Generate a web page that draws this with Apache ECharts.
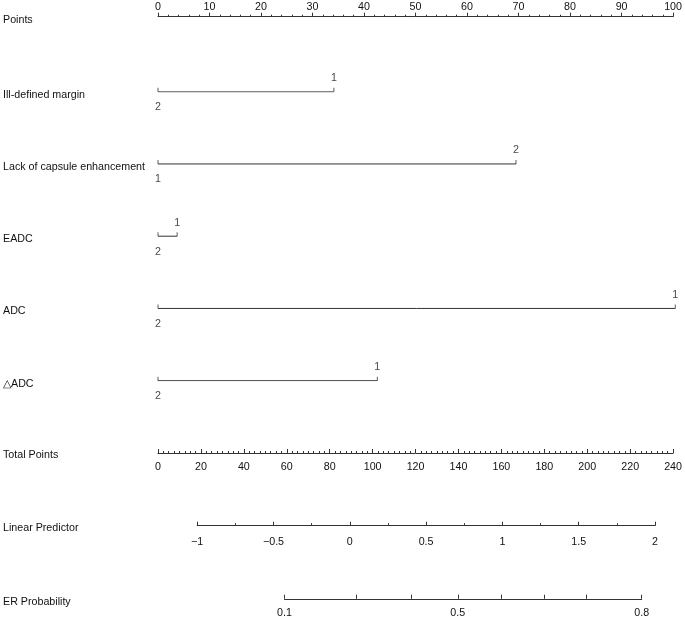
<!DOCTYPE html>
<html>
<head>
<meta charset="utf-8">
<script src="https://cdn.jsdelivr.net/npm/echarts@6/dist/echarts.min.js"></script>
<style>html,body{margin:0;padding:0;background:#fff}#c{width:685px;height:617px}</style>
</head>
<body>
<div id="c"></div>
<script>
// ---- data ----
const variables = ['Ill-defined margin', 'Lack of capsule enhancement', 'EADC', 'ADC', '\u25B3ADC'];
const maxPoints = [34.0, 69.2, 3.7, 100, 42.4];     // points at the right end of each scale
const highLevel = ['1', '2', '1', '1', '1'];        // level label at the right end
const lowLevel  = ['2', '1', '2', '2', '2'];        // level label at 0 points
const pointsTicks = [0, 10, 20, 30, 40, 50, 60, 70, 80, 90, 100];
const totalTicks = [0, 20, 40, 60, 80, 100, 120, 140, 160, 180, 200, 220, 240];
const lpTicks = [-1, -0.5, 0, 0.5, 1, 1.5, 2];
const erTickLP = [-0.43, 0.04, 0.40, 0.705, 0.99, 1.27, 1.55, 1.91];   // probability ticks on linear predictor scale
const erTickLabels = ['0.1', '', '', '0.5', '', '', '', '0.8'];

// ---- style ----
const LINE = '#333';
const TXT = '#111';
const FONT = '"Liberation Sans", Arial, Helvetica, sans-serif';
const FS = 10.7;
const ls = () => ({color: LINE, width: 1});

const chart = echarts.init(document.getElementById('c'), null, {renderer: 'canvas'});

function rowLabel(name, margin) {
  return {
    type: 'category', data: [name], axisLine: {show: false}, axisTick: {show: false},
    splitLine: {show: false},
    axisLabel: {align: 'left', margin: margin, formatter: v => '{a|' + v + '}',
      rich: {a: {color: TXT, fontFamily: FONT, fontSize: FS, padding: [6, 0, 0, 0]}}}
  };
}
const fmtMinus = v => String(v).replace('-', '\u2212');
const lab = (m, extra) => Object.assign({margin: m, color: TXT, fontFamily: FONT, fontSize: FS,
  showMaxLabel: true, showMinLabel: true}, extra || {});

const grids = [
  {left: 156, right: 9.7, top: 91.7, bottom: 236.3},          // variables
  {left: 156, right: 9.7, top: 16.7, height: 1},              // Points (top axis)
  {left: 156, right: 9.7, top: 452, height: 1},               // Total Points
  {left: 195.2, right: 30, top: 524.7, height: 1},            // Linear Predictor
  {left: 282.5, right: 43.3, top: 598.5, height: 1}           // ER Probability
];

const xAxes = [
  {gridIndex: 0, type: 'value', min: 0, max: 100, show: false},
  {gridIndex: 1, type: 'value', position: 'top', min: 0, max: 100, interval: 10,
   axisLine: {show: true, lineStyle: ls()},
   axisTick: {show: true, length: 4, lineStyle: ls(), customValues: pointsTicks},
   minorTick: {show: true, splitNumber: 5, length: 2, lineStyle: ls()},
   splitLine: {show: false},
   axisLabel: lab(4, {customValues: pointsTicks})},
  {gridIndex: 2, type: 'value', position: 'bottom', min: 0, max: 240, interval: 20,
   axisLine: {show: true, lineStyle: ls()},
   axisTick: {show: true, inside: true, length: 4, lineStyle: ls(), customValues: totalTicks},
   minorTick: {show: true, splitNumber: 8, length: 2, lineStyle: ls()},
   splitLine: {show: false},
   axisLabel: lab(9, {customValues: totalTicks})},
  {gridIndex: 3, type: 'value', position: 'bottom', min: -1, max: 2, interval: 0.5,
   axisLine: {show: true, lineStyle: ls()},
   axisTick: {show: true, inside: true, length: 4, lineStyle: ls(), customValues: lpTicks},
   minorTick: {show: true, splitNumber: 2, length: 2.5, lineStyle: ls()},
   splitLine: {show: false},
   axisLabel: lab(11, {customValues: lpTicks, formatter: fmtMinus})},
  {gridIndex: 4, type: 'value', position: 'bottom', min: erTickLP[0], max: erTickLP[erTickLP.length - 1],
   axisLine: {show: true, lineStyle: ls()},
   axisTick: {show: true, inside: true, length: 4, lineStyle: ls(), customValues: erTickLP},
   splitLine: {show: false},
   axisLabel: lab(8.5, {
     customValues: erTickLP.filter((v, i) => erTickLabels[i] !== ''),
     formatter: v => erTickLabels[erTickLP.indexOf(v)]})}
];

const yAxes = [
  {gridIndex: 0, type: 'value', min: 0, max: variables.length - 1, interval: 1, inverse: true,
   axisLine: {show: false}, axisTick: {show: false}, splitLine: {show: false},
   axisLabel: {align: 'left', margin: 155, formatter: v => '{a|' + (variables[v] || '') + '}',
     rich: {a: {color: TXT, fontFamily: FONT, fontSize: FS, padding: [6, 0, 0, 0]}}}},
  Object.assign(rowLabel('Points', 155), {gridIndex: 1}),
  Object.assign(rowLabel('Total Points', 155), {gridIndex: 2}),
  Object.assign(rowLabel('Linear Predictor', 194.2), {gridIndex: 3}),
  Object.assign(rowLabel('ER Probability', 281.5), {gridIndex: 4})
];

const series = [];
variables.forEach((name, i) => {
  series.push({
    type: 'line', xAxisIndex: 0, yAxisIndex: 0, data: [[0, i], [maxPoints[i], i]],
    showSymbol: false, symbol: 'none', lineStyle: ls(), silent: true, animation: false
  });
});
const endTick = () => ({symbol: 'rect', symbolSize: [1, 4], symbolOffset: [0, '-50%'], itemStyle: {color: LINE}});
series.push(Object.assign({
  type: 'scatter', xAxisIndex: 0, yAxisIndex: 0, animation: false,
  data: maxPoints.map((v, i) => [v, i]),
  label: {show: true, position: 'top', distance: 4, color: TXT, fontFamily: FONT, fontSize: FS,
    formatter: p => highLevel[p.dataIndex]}
}, endTick()));
series.push(Object.assign({
  type: 'scatter', xAxisIndex: 0, yAxisIndex: 0, animation: false,
  data: maxPoints.map((v, i) => [0, i]),
  label: {show: true, position: 'bottom', distance: 10, color: TXT, fontFamily: FONT, fontSize: FS,
    formatter: p => lowLevel[p.dataIndex]}
}, endTick()));

chart.setOption({
  animation: false,
  backgroundColor: '#fff',
  grid: grids,
  xAxis: xAxes,
  yAxis: yAxes,
  series: series
});
</script>
</body>
</html>
